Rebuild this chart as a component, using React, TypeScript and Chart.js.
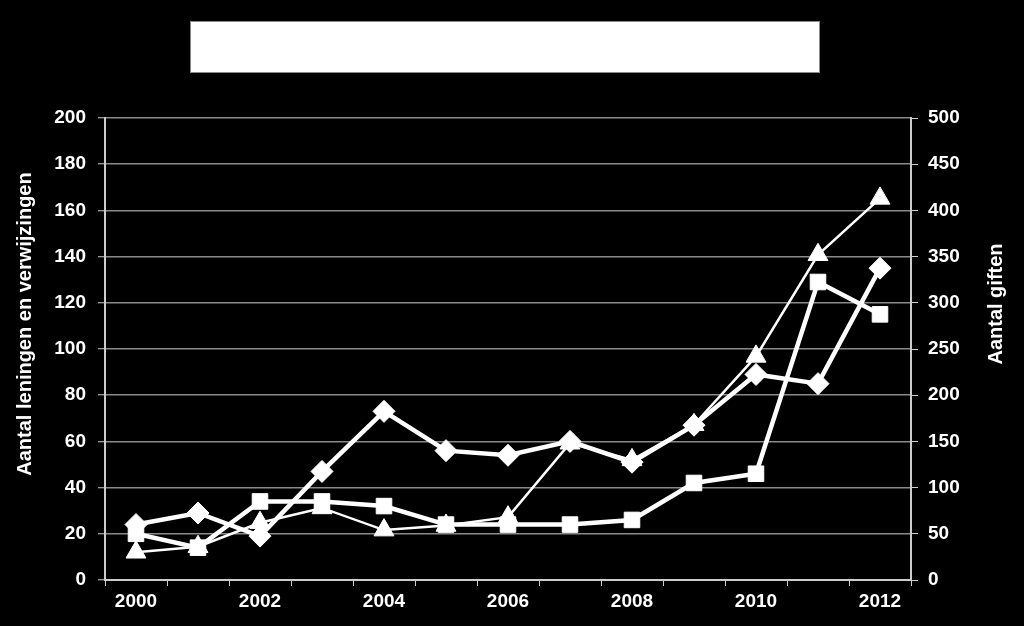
import React, { useEffect, useRef } from "react";
import { Chart, registerables } from "chart.js";

Chart.register(...registerables);

const years = ["2000", "2001", "2002", "2003", "2004", "2005", "2006", "2007", "2008", "2009", "2010", "2011", "2012"];
const leningen = [24, 29, 19, 47, 73, 56, 54, 60, 51, 67, 89, 85, 135];
const verwijzingen = [20, 14, 34, 34, 32, 24, 24, 24, 26, 42, 46, 129, 115];
const giften = [30, 36, 62, 78, 54, 59, 68, 148, 130, 168, 242, 352, 413];

const leftTitle = "Aantal leningen en verwijzingen";
const rightTitle = "Aantal giften";

const FONT = '"Liberation Sans", Arial, sans-serif';

const decorPlugin = {
  id: "decor",
  beforeDraw(chart: any) {
    const ctx = chart.ctx;
    ctx.save();
    ctx.fillStyle = "#000000";
    ctx.fillRect(0, 0, chart.width, chart.height);
    ctx.fillStyle = "#ffffff";
    ctx.fillRect(190, 21, 630, 52);
    ctx.strokeStyle = "#8a8a8a";
    ctx.lineWidth = 1;
    ctx.strokeRect(190.5, 21.5, 629, 51);
    ctx.restore();
  },
  afterDraw(chart: any) {
    const ctx = chart.ctx;
    const draw = (text: string, x: number, y: number) => {
      ctx.save();
      ctx.fillStyle = "#ffffff";
      ctx.font = `bold 20px ${FONT}`;
      ctx.textAlign = "center";
      ctx.textBaseline = "middle";
      ctx.translate(x, y);
      ctx.rotate(-Math.PI / 2);
      ctx.fillText(text, 0, 0);
      ctx.restore();
    };
    draw(leftTitle, 25, 324);
    draw(rightTitle, 996, 304);
  },
};

export default function App() {
  const ref = useRef<HTMLCanvasElement | null>(null);
  useEffect(() => {
    if (!ref.current) return;
    const tickFont = { family: FONT, size: 19, weight: "bold" as const };
    const chart = new Chart(ref.current, {
      type: "line",
      data: {
        labels: years,
        datasets: [
          {
            label: "Leningen",
            data: leningen,
            yAxisID: "y",
            borderColor: "#ffffff",
            backgroundColor: "#ffffff",
            borderWidth: 4.5,
            pointStyle: "rectRot",
            pointRadius: 11,
            pointBorderWidth: 1,
          },
          {
            label: "Verwijzingen",
            data: verwijzingen,
            yAxisID: "y",
            borderColor: "#ffffff",
            backgroundColor: "#ffffff",
            borderWidth: 4.5,
            pointStyle: "rect",
            pointRadius: 11,
            pointBorderWidth: 1,
          },
          {
            label: "Giften",
            data: giften,
            yAxisID: "y1",
            borderColor: "#ffffff",
            backgroundColor: "#ffffff",
            borderWidth: 2.5,
            pointStyle: "triangle",
            pointRadius: 11.5,
            pointBorderWidth: 1,
          },
        ],
      },
      options: {
        animation: false,
        responsive: false,
        layout: { padding: { top: 118, left: 0, right: 0, bottom: 0 } },
        plugins: { legend: { display: false }, tooltip: { enabled: false } },
        scales: {
          x: {
            type: "category",
            offset: true,
            grid: { offset: true, drawOnChartArea: false, drawTicks: true, tickLength: 6, color: "#cccccc", lineWidth: 1 },
            border: { color: "#cccccc", width: 2 },
            ticks: {
              autoSkip: false,
              maxRotation: 0,
              color: "#ffffff",
              font: tickFont,
              padding: 4,
              callback: (_v: any, i: number) => (i % 2 === 0 ? years[i] : ""),
            },
            afterFit: (s: any) => { s.height = 46; },
          },
          y: {
            position: "left",
            min: 0,
            max: 200,
            ticks: { stepSize: 20, color: "#ffffff", font: tickFont, padding: 12 },
            grid: { color: "#8a8a8a", lineWidth: 1.5, tickLength: 7, tickColor: "#cccccc", tickWidth: 1 },
            border: { color: "#cccccc", width: 2 },
            afterFit: (s: any) => { s.width = 105; },
          },
          y1: {
            position: "right",
            min: 0,
            max: 500,
            ticks: { stepSize: 50, color: "#ffffff", font: tickFont, padding: 10 },
            grid: { drawOnChartArea: false, tickLength: 7, color: "#cccccc", tickWidth: 1 },
            border: { color: "#cccccc", width: 2 },
            afterFit: (s: any) => { s.width = 113; },
          },
        },
      },
      plugins: [decorPlugin],
    });
    return () => chart.destroy();
  }, []);
  return (
    <div style={{ position: "absolute", left: 0, top: 0, width: 1024, height: 626, background: "#000" }}>
      <canvas ref={ref} width={1024} height={626} style={{ display: "block", width: 1024, height: 626 }} />
    </div>
  );
}
